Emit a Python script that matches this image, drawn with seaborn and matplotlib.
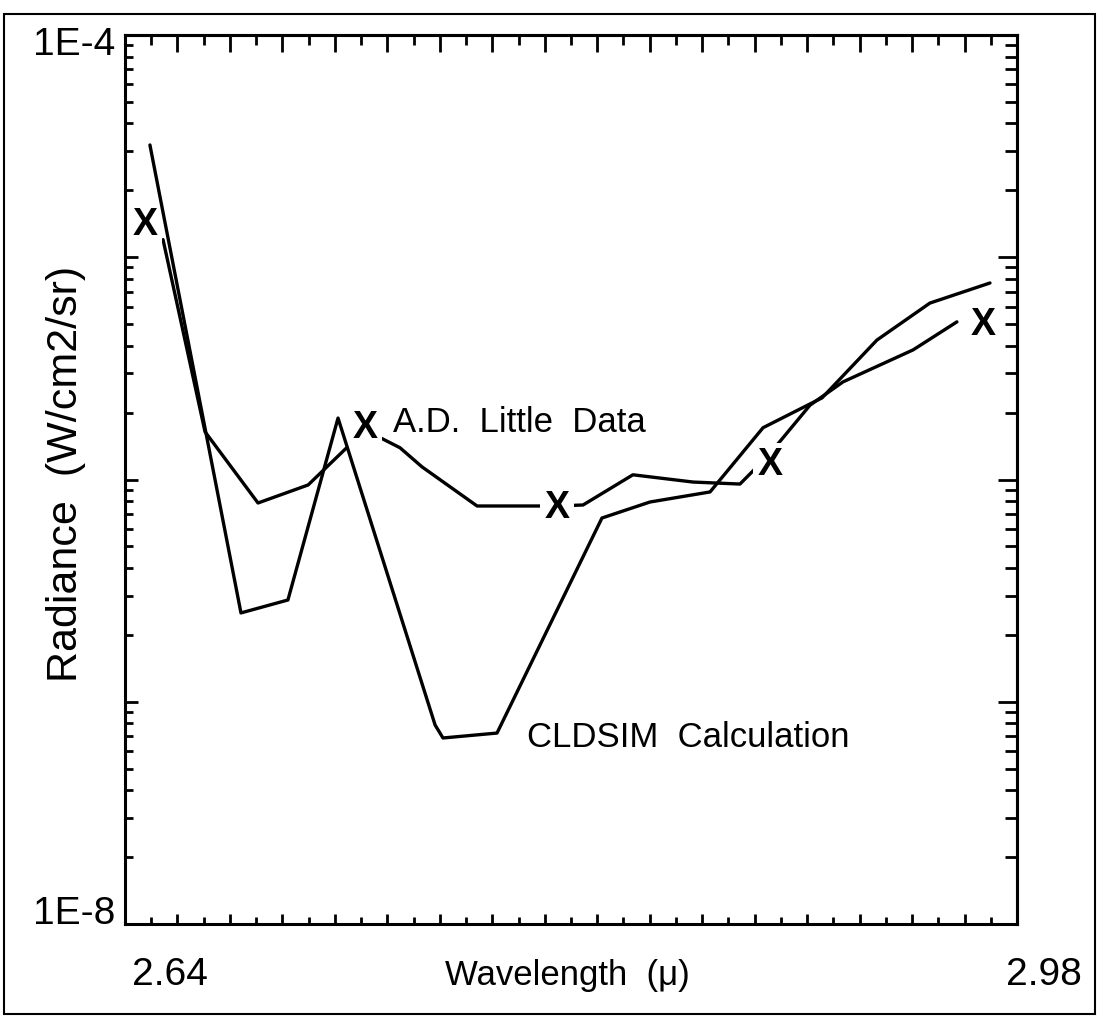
import numpy as np
import pandas as pd
import matplotlib
matplotlib.use("Agg")
import matplotlib.pyplot as plt
import seaborn as sns
from matplotlib.ticker import FixedLocator, LogLocator, NullFormatter
from matplotlib.patches import Rectangle

# ---------------- data ----------------
cldsim_wl = [2.6495, 2.6842, 2.7021, 2.7212, 2.7582, 2.7612, 2.7818, 2.8218,
             2.8401, 2.8630, 2.8832, 2.9057, 2.9266, 2.9468, 2.9697]
cldsim_rad = [3.20e-5, 2.51e-7, 2.87e-7, 1.89e-6, 7.86e-8, 6.87e-8, 7.23e-8, 6.71e-7,
              7.92e-7, 8.79e-7, 1.71e-6, 2.33e-6, 4.24e-6, 6.22e-6, 7.66e-6]

adl_wl = [2.6545, 2.6705, 2.6907, 2.7098, 2.7315, 2.7448, 2.7532, 2.7742, 2.8047,
          2.8146, 2.8336, 2.8565, 2.8744, 2.8809, 2.8870, 2.9011, 2.9137, 2.9404, 2.9571]
adl_rad = [1.20e-5, 1.64e-6, 7.84e-7, 9.45e-7, 1.67e-6, 1.39e-6, 1.14e-6, 7.60e-7, 7.60e-7,
           7.68e-7, 1.05e-6, 9.74e-7, 9.54e-7, 1.14e-6, 1.36e-6, 2.16e-6, 2.75e-6, 3.83e-6, 5.12e-6]

mark_wl = [2.6476, 2.7315, 2.8047, 2.8859, 2.9670]
mark_rad = [1.40e-5, 1.71e-6, 7.44e-7, 1.16e-6, 4.96e-6]

x_end_labels = ["2.64", "2.98"]
x_limits = [2.64, 2.98]
y_end_labels = ["1E-4", "1E-8"]
y_limits = [1e-8, 1e-4]

series_labels = ["A.D.  Little  Data", "CLDSIM  Calculation"]
label_pos_wl = [2.7422, 2.7932]
label_pos_rad = [1.80e-6, 6.94e-8]

# ---------------- style ----------------
sns.set_theme(style="white")
plt.rcParams["font.family"] = ["Liberation Sans", "DejaVu Sans"]
plt.rcParams["text.color"] = "black"
plt.rcParams["axes.labelcolor"] = "black"
plt.rcParams["xtick.color"] = "black"
plt.rcParams["ytick.color"] = "black"

W, H = 1097, 1019
fig = plt.figure(figsize=(W / 100, H / 100), dpi=100)
L, R, T, B = 125, 1017, 35, 924
ax = fig.add_axes([L / W, 1 - B / H, (R - L) / W, (B - T) / H])

df_c = pd.DataFrame({"wl": cldsim_wl, "rad": cldsim_rad})
df_a = pd.DataFrame({"wl": adl_wl, "rad": adl_rad})
sns.lineplot(data=df_c, x="wl", y="rad", sort=False, estimator=None,
             color="black", lw=2.4, ax=ax, zorder=6)
sns.lineplot(data=df_a, x="wl", y="rad", sort=False, estimator=None,
             color="black", lw=2.4, ax=ax, zorder=3)

ax.set_yscale("log")
ax.set_xlim(*x_limits)
ax.set_ylim(*y_limits)

for xm, ym in zip(mark_wl, mark_rad):
    ax.text(xm, ym, "X", fontsize=27, fontweight="bold", ha="center", va="center",
            color="black", zorder=5,
            bbox=dict(boxstyle="square,pad=0.12", fc="white", ec="none"))

for lab, xw, yr in zip(series_labels, label_pos_wl, label_pos_rad):
    ax.text(xw, yr, lab, fontsize=25, ha="left", va="center", color="black")

# spines
for s in ax.spines.values():
    s.set_visible(True)
    s.set_color("black")
    s.set_linewidth(2.2)

# x ticks
xmaj = np.round(np.arange(2.66, 2.965, 0.02), 2)
xmin = np.round(np.arange(2.65, 2.975, 0.02), 2)
ax.xaxis.set_major_locator(FixedLocator(xmaj))
ax.xaxis.set_minor_locator(FixedLocator(xmin))
ax.tick_params(axis="x", which="major", direction="in", length=7, width=2,
               bottom=True, top=False, labelbottom=False, color="black")
ax.tick_params(axis="x", which="minor", direction="in", length=5, width=2,
               bottom=True, top=False, color="black")

# y ticks
ax.yaxis.set_major_locator(FixedLocator([1e-8, 1e-7, 1e-6, 1e-5, 1e-4]))
ax.yaxis.set_minor_locator(LogLocator(base=10, subs=np.arange(2, 10)))
ax.yaxis.set_minor_formatter(NullFormatter())
ax.tick_params(axis="y", which="major", direction="in", length=9, width=2,
               left=True, right=False, labelleft=False, color="black")
ax.tick_params(axis="y", which="minor", direction="in", length=6, width=2,
               left=True, right=False, color="black")

# top axis ticks (longer)
secx = ax.secondary_xaxis("top")
secx.xaxis.set_major_locator(FixedLocator(xmaj))
secx.xaxis.set_minor_locator(FixedLocator(xmin))
secx.tick_params(axis="x", which="major", direction="in", length=12, width=2,
                 labeltop=False, color="black")
secx.tick_params(axis="x", which="minor", direction="in", length=7, width=2, color="black")
secx.spines["top"].set_linewidth(2.2)

# right axis ticks (longer)
secy = ax.secondary_yaxis("right")
secy.yaxis.set_major_locator(FixedLocator([1e-8, 1e-7, 1e-6, 1e-5, 1e-4]))
secy.yaxis.set_minor_locator(LogLocator(base=10, subs=np.arange(2, 10)))
secy.yaxis.set_minor_formatter(NullFormatter())
secy.tick_params(axis="y", which="major", direction="in", length=14, width=2,
                 labelright=False, color="black")
secy.tick_params(axis="y", which="minor", direction="in", length=9, width=2, color="black")
secy.spines["right"].set_linewidth(2.2)

# end labels
ax.annotate(x_end_labels[0], xy=(x_limits[0], 0), xycoords=("data", "axes fraction"),
            xytext=(45, -51), textcoords="offset pixels", ha="center", va="center", fontsize=28)
ax.annotate(x_end_labels[1], xy=(x_limits[1], 0), xycoords=("data", "axes fraction"),
            xytext=(27, -51), textcoords="offset pixels", ha="center", va="center", fontsize=28)
ax.annotate(y_end_labels[0], xy=(0, y_limits[1]), xycoords=("axes fraction", "data"),
            xytext=(-10, -10), textcoords="offset pixels", ha="right", va="center", fontsize=28)
ax.annotate(y_end_labels[1], xy=(0, y_limits[0]), xycoords=("axes fraction", "data"),
            xytext=(-10, 10), textcoords="offset pixels", ha="right", va="center", fontsize=28)

ax.set_xlabel("Wavelength  (μ)", fontsize=25, va="center")
ax.xaxis.set_label_coords((567 - L) / (R - L), (B - 975) / (B - T))
ax.set_ylabel("Radiance  (W/cm2/sr)", fontsize=31, va="center")
ax.yaxis.set_label_coords((66 - L) / (R - L), (B - 474) / (B - T))

# outer frame
fig.add_artist(Rectangle((0.004, 0.005), 0.994, 0.981, transform=fig.transFigure,
                         fill=False, lw=1.5, ec="black"))

fig.savefig("out.png", dpi=100, facecolor="white")
